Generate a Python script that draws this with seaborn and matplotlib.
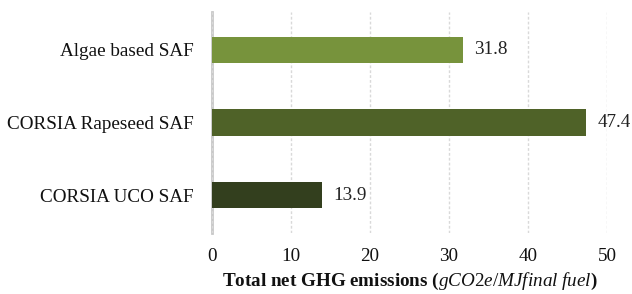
import matplotlib
matplotlib.use('Agg')
import matplotlib.pyplot as plt
import seaborn as sns
import pandas as pd

# data
categories = ['Algae based SAF', 'CORSIA Rapeseed SAF', 'CORSIA UCO SAF']
emissions = [31.8, 47.4, 13.9]
bar_colors = ['#77933C', '#4F6228', '#333F1E']
x_ticks = [0, 10, 20, 30, 40, 50]

sns.set_theme(style='white')
plt.rcParams['font.family'] = ['Liberation Serif', 'DejaVu Serif']
plt.rcParams['mathtext.fontset'] = 'custom'
plt.rcParams['mathtext.rm'] = 'Liberation Serif'
plt.rcParams['mathtext.it'] = 'Liberation Serif:italic'
plt.rcParams['mathtext.bf'] = 'Liberation Serif:bold'

df = pd.DataFrame({'cat': categories, 'val': emissions})

fig = plt.figure(figsize=(6.32, 2.94), dpi=100)
ax = fig.add_axes([212 / 632, 1 - 233 / 294, 395 / 632, 221 / 294])

sns.barplot(data=df, x='val', y='cat', hue='cat', palette=bar_colors,
            orient='h', width=0.36, legend=False, ax=ax, saturation=1,
            linewidth=0)

for c in ax.containers:
    ax.bar_label(c, fmt='%.1f', padding=8, fontsize=13.8, color='#222222', clip_on=False)

ax.set_xlim(0, 50)
ax.set_ylim(2.52, -0.52)
ax.set_xticks(x_ticks)
ax.xaxis.grid(True, color='#d9d9d9', linestyle=(0, (2, 1.5)), linewidth=1)
ax.set_axisbelow(True)
for s in ['top', 'right', 'bottom']:
    ax.spines[s].set_visible(False)
ax.spines['left'].set_color('#c8c8c8')
ax.spines['left'].set_linewidth(2)
ax.spines['left'].set_zorder(0.5)

ax.tick_params(axis='y', length=0, pad=13, labelsize=13.8, labelcolor='#111111')
ax.tick_params(axis='x', length=0, pad=11, labelsize=13.8, labelcolor='#111111')
ax.set_ylabel('')
ax.set_xlabel(r'$\mathbf{Total\ net\ GHG\ emissions\ (}$$\mathit{gCO2e/MJfinal\ fuel}$$\mathbf{)}$',
              fontsize=13.8, labelpad=4, color='#111111')

plt.savefig('out.png', dpi=100)
